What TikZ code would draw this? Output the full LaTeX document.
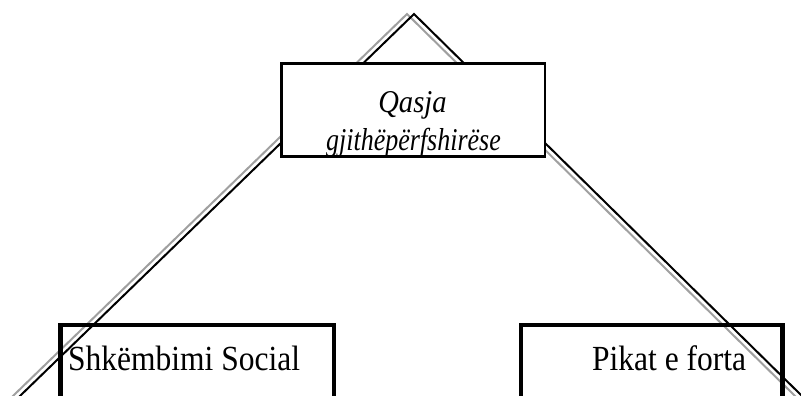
\documentclass[tikz,border=0pt]{standalone}
\usepackage{fontspec}
\setmainfont{Liberation Serif}
\begin{document}
\begin{tikzpicture}[x=1pt,y=-1pt,
  shadowline/.style={draw={rgb,255:red,160;green,160;blue,160},line width=2pt},
  mainline/.style={draw=black,line width=2pt},
  topbox/.style={draw=black,fill=white,line width=2.5pt,inner sep=0pt,
    minimum width=263.3pt,minimum height=93.2pt},
  bottombox/.style={draw=black,line width=4.5pt,inner sep=0pt,
    minimum height=115pt},
  toptext/.style={inner sep=0pt,anchor=base,font=\fontsize{26}{30}\selectfont\itshape},
  bottomtext/.style={inner sep=0pt,anchor=base west,font=\fontsize{31.5}{36}\selectfont}]
\useasboundingbox (0,0) rectangle (801,396);
\clip (0,0) rectangle (801,396);
% triangle (black) and its gray shadow
\coordinate (apex) at (414,14);
\coordinate (leftend) at (-4.8,420);
\coordinate (rightend) at (826.4,420);
\coordinate (sapex) at (407,14);
\coordinate (sleftend) at (-11.8,420);
\coordinate (srightend) at (819.4,420);
\draw[shadowline] (sleftend) -- (sapex) -- (srightend);
\draw[mainline] (leftend) -- (apex) -- (rightend);
% top box
\node[topbox] (top) at (413.35,109.9) {};
\begin{scope}
  \clip (282.95,64.55) rectangle (543.75,155.25);
  \node[toptext] (qasja) at (412.5,112) {\scalebox{1.1}[1.22]{Qasja}};
  \node[toptext] (gjith) at (413.5,150) {\scalebox{1}[1.22]{gjithëpërfshirëse}};
\end{scope}
% bottom boxes
\node[bottombox,minimum width=273.5pt] (social) at (197.25,382.5) {};
\node[bottombox,minimum width=261.5pt] (pikat) at (651.75,382.5) {};
\node[bottomtext] (socialtext) at (68,370) {\scalebox{1}[1.12]{Shkëmbimi Social}};
\node[bottomtext] (pikattext) at (592,370) {\scalebox{1}[1.12]{Pikat e forta}};
\end{tikzpicture}
\end{document}
